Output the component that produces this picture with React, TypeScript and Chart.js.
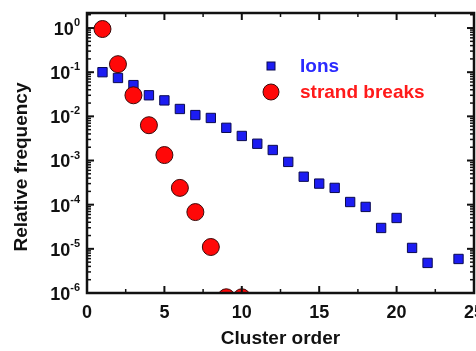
import React, { useEffect, useRef } from "react";
import { Chart, registerables } from "chart.js";

Chart.register(...registerables);

// ---- Data ----
const ionsOrder = [1, 2, 3, 4, 5, 6, 7, 8, 9, 10, 11, 12, 13, 14, 15, 16, 17, 18, 19, 20, 21, 22, 24];
const ionsFreq = [
  0.1, 0.074, 0.051, 0.03, 0.023, 0.0147, 0.0107, 0.0092, 0.0055, 0.0036, 0.0024, 0.00173,
  0.00093, 0.00043, 0.0003, 0.00024, 0.000115, 0.000089, 0.0000297, 0.00005, 0.0000105,
  0.0000048, 0.0000059,
];
const breaksOrder = [1, 2, 3, 4, 5, 6, 7, 8, 9, 10];
const breaksFreq = [0.95, 0.152, 0.03, 0.0063, 0.00133, 0.00024, 0.000068, 0.000011, 0.0000008, 0.0000008];

const xMajorTicks = [0, 5, 10, 15, 20, 25];
const xMinorTicks = [2.5, 7.5, 12.5, 17.5, 22.5];
const yDecades = [0, -1, -2, -3, -4, -5, -6];
const seriesLabels = ["Ions", "strand breaks"];
const xTitle = "Cluster order";
const yTitle = "Relative frequency";

const FONT = "'Liberation Sans', Arial, sans-serif";

const framePlugin = {
  id: "frameAndLabels",
  afterDatasetsDraw(chart: any) {
    const { ctx, chartArea } = chart;
    const { left, right, top, bottom } = chartArea;
    const xs = chart.scales.x;
    const ys = chart.scales.y;
    ctx.save();
    ctx.strokeStyle = "#111";
    ctx.lineCap = "butt";

    const line = (x1: number, y1: number, x2: number, y2: number) => {
      ctx.beginPath();
      ctx.moveTo(x1, y1);
      ctx.lineTo(x2, y2);
      ctx.stroke();
    };

    // x ticks (bottom & top, inward)
    ctx.lineWidth = 2;
    xMajorTicks.forEach((v) => {
      const px = xs.getPixelForValue(v);
      line(px, bottom, px, bottom - 7);
      line(px, top, px, top + 7);
    });
    ctx.lineWidth = 1.5;
    xMinorTicks.forEach((v) => {
      const px = xs.getPixelForValue(v);
      line(px, bottom, px, bottom - 4);
      line(px, top, px, top + 4);
    });

    // y ticks (left & right, inward)
    yDecades.forEach((e) => {
      for (let m = 1; m <= 9; m++) {
        const v = m * Math.pow(10, e);
        if (v > ys.max || v < ys.min) continue;
        const py = ys.getPixelForValue(v);
        const major = m === 1;
        ctx.lineWidth = major ? 2 : 1.5;
        const len = major ? 7 : 4;
        line(left, py, left + len, py);
        line(right, py, right - len, py);
      }
    });

    // frame
    ctx.lineWidth = 2.5;
    ctx.strokeRect(left, top, right - left, bottom - top);

    // y tick labels with superscript exponents
    ctx.fillStyle = "#111";
    yDecades.forEach((e) => {
      const py = ys.getPixelForValue(Math.pow(10, e));
      const exp = String(e);
      ctx.font = `bold 11px ${FONT}`;
      const expW = ctx.measureText(exp).width;
      const expX = left - 7 - expW;
      ctx.textAlign = "left";
      ctx.textBaseline = "middle";
      ctx.fillText(exp, expX, py - 5);
      ctx.font = `bold 18px ${FONT}`;
      ctx.textAlign = "right";
      ctx.fillText("10", expX, py + 2);
    });

    // axis titles
    ctx.font = `bold 19px ${FONT}`;
    ctx.textAlign = "center";
    ctx.textBaseline = "middle";
    ctx.fillText(xTitle, (left + right) / 2, 339);
    ctx.save();
    ctx.translate(22, 167);
    ctx.rotate(-Math.PI / 2);
    ctx.fillText(yTitle, 0, 0);
    ctx.restore();

    // legend
    const ds = chart.data.datasets;
    const legendRows = [
      { dsIndex: 0, y: top + 53 },
      { dsIndex: 1, y: top + 79 },
    ];
    legendRows.forEach(({ dsIndex, y }) => {
      const d = ds[dsIndex];
      const mx = left + 184;
      ctx.fillStyle = d.backgroundColor;
      ctx.strokeStyle = d.borderColor;
      ctx.lineWidth = 1;
      if (d.pointStyle === "rect") {
        const s = 8;
        ctx.fillRect(mx - s / 2, y - s / 2, s, s);
        ctx.strokeRect(mx - s / 2, y - s / 2, s, s);
      } else {
        ctx.beginPath();
        ctx.arc(mx, y, 8, 0, Math.PI * 2);
        ctx.fill();
        ctx.stroke();
      }
      ctx.font = `bold 19px ${FONT}`;
      ctx.textAlign = "left";
      ctx.textBaseline = "middle";
      ctx.fillStyle = d.labelColor;
      ctx.fillText(d.label, left + 213, y + 1);
    });

    ctx.restore();
  },
};

export default function App() {
  const canvasRef = useRef<HTMLCanvasElement | null>(null);

  useEffect(() => {
    const canvas = canvasRef.current;
    if (!canvas) return;
    const chart = new Chart(canvas, {
      type: "scatter",
      data: {
        datasets: [
          {
            label: seriesLabels[0],
            data: ionsOrder.map((x, i) => ({ x, y: ionsFreq[i] })),
            pointStyle: "rect",
            pointRadius: 6.6,
            backgroundColor: "#1c1cf2",
            borderColor: "#0a0a50",
            borderWidth: 1,
            labelColor: "#2a2aff",
            order: 2,
            clip: 0,
          } as any,
          {
            label: seriesLabels[1],
            data: breaksOrder.map((x, i) => ({ x, y: breaksFreq[i] })),
            pointStyle: "circle",
            pointRadius: 8.5,
            backgroundColor: "#ff0808",
            borderColor: "#3a0a0a",
            borderWidth: 1,
            labelColor: "#ff1a1a",
            order: 1,
            clip: 0,
          } as any,
        ],
      },
      options: {
        responsive: false,
        animation: false,
        layout: { padding: { top: 13, right: 26, left: 0, bottom: 0 } },
        plugins: {
          legend: { display: false },
          tooltip: { enabled: false },
        },
        scales: {
          x: {
            type: "linear",
            min: 0,
            max: 25,
            grid: { display: false, drawTicks: false },
            border: { display: false },
            ticks: {
              stepSize: 5,
              padding: 9,
              color: "#111",
              font: { family: FONT, size: 18, weight: "bold" },
            },
            afterFit: (scale: any) => {
              scale.height = 58;
            },
          },
          y: {
            type: "logarithmic",
            min: 1e-6,
            max: 2.19,
            grid: { display: false, drawTicks: false },
            border: { display: false },
            ticks: { display: false },
            afterFit: (scale: any) => {
              scale.width = 87;
            },
          },
        },
      } as any,
      plugins: [framePlugin],
    });
    return () => chart.destroy();
  }, []);

  return (
    <div
      style={{
        position: "fixed",
        left: 0,
        top: 0,
        width: 476,
        height: 351,
        overflow: "hidden",
        background: "#fff",
      }}
    >
      <canvas ref={canvasRef} width={500} height={351} style={{ display: "block" }} />
    </div>
  );
}
